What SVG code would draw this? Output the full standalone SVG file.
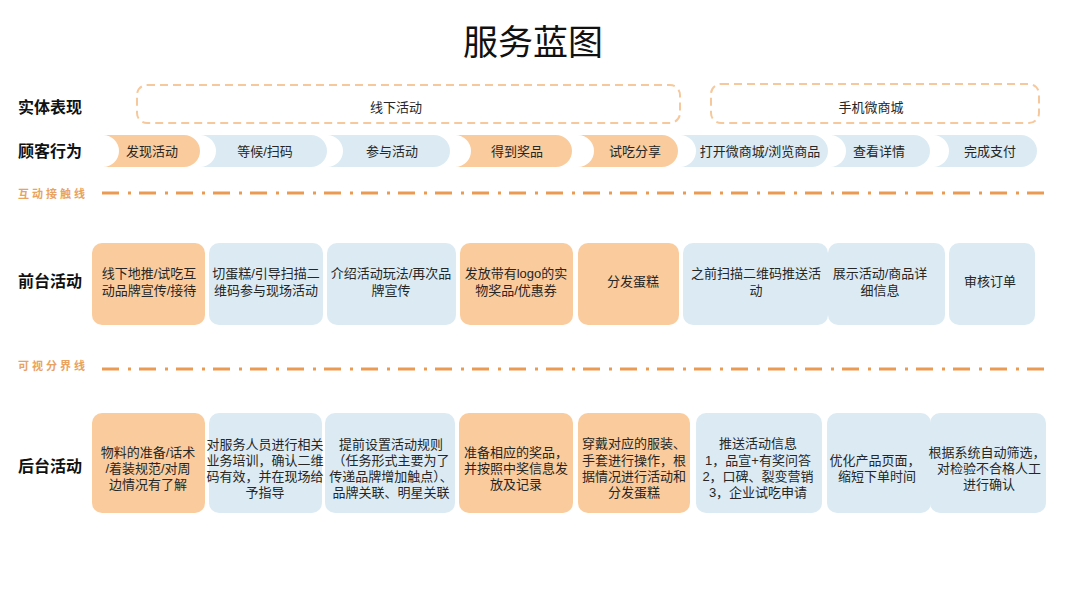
<svg xmlns="http://www.w3.org/2000/svg" width="1067" height="600" viewBox="0 0 1067 600">
<style>
text{font-family:"Liberation Sans","Noto Sans CJK SC",sans-serif;fill:#262626}
.t{font-size:13px;text-anchor:middle;dominant-baseline:central}
.lab{font-size:16px;font-weight:bold;fill:#111;dominant-baseline:central}
.sec{font-size:11px;font-weight:bold;fill:#E9A260;letter-spacing:3px;dominant-baseline:central}
.o{fill:#FACC9D}
.b{fill:#DCEBF3}
.dash{fill:none;stroke:#F6C99D;stroke-width:2;stroke-dasharray:8 5}
.line{stroke:#EA9A52;stroke-width:3;stroke-dasharray:17 9 3 8;fill:none}
</style>
<rect width="1067" height="600" fill="#fff"/>
<text x="533" y="42" style="font-size:35px;text-anchor:middle;dominant-baseline:central;fill:#111">服务蓝图</text>

<g id="labels">
<text class="lab" x="18" y="107">实体表现</text>
<text class="lab" x="18" y="151">顾客行为</text>
<text class="lab" x="18" y="281">前台活动</text>
<text class="lab" x="18" y="466">后台活动</text>
<text class="sec" x="18" y="194">互动接触线</text>
<text class="sec" x="18" y="366">可视分界线</text>
</g>

<g id="connectors">
<line class="line" x1="102" y1="193" x2="1046" y2="193"/>
<line class="line" x1="102" y1="369" x2="1046" y2="369"/>
</g>

<g id="physical-offline"><rect class="dash" x="137" y="85" width="543" height="38" rx="10"/><text class="t" x="396" y="107">线下活动</text></g>
<g id="physical-mobile"><rect class="dash" x="711" y="84" width="328" height="39" rx="10"/><text class="t" x="871" y="107">手机微商城</text></g>

<g id="c1"><path class="o" d="M103,135 H184 A16,16 0 0 1 184,167 H103 A16,16 0 0 0 103,135 Z"/><text class="t" x="152" y="151">发现活动</text></g>
<g id="c2"><path class="b" d="M200,135 H311 A16,16 0 0 1 311,167 H200 A16,16 0 0 0 200,135 Z"/><text class="t" x="265" y="151">等候/扫码</text></g>
<g id="c3"><path class="b" d="M327,135 H434 A16,16 0 0 1 434,167 H327 A16,16 0 0 0 327,135 Z"/><text class="t" x="392" y="151">参与活动</text></g>
<g id="c4"><path class="o" d="M455,135 H556 A16,16 0 0 1 556,167 H455 A16,16 0 0 0 455,135 Z"/><text class="t" x="517" y="151">得到奖品</text></g>
<g id="c5"><path class="o" d="M578,135 H662 A16,16 0 0 1 662,167 H578 A16,16 0 0 0 578,135 Z"/><text class="t" x="635" y="151">试吃分享</text></g>
<g id="c6"><path class="b" d="M680,135 H812 A16,16 0 0 1 812,167 H680 A16,16 0 0 0 680,135 Z"/><text class="t" x="760" y="151">打开微商城/浏览商品</text></g>
<g id="c7"><path class="b" d="M830,135 H914 A16,16 0 0 1 914,167 H830 A16,16 0 0 0 830,135 Z"/><text class="t" x="879" y="151">查看详情</text></g>
<g id="c8"><path class="b" d="M933,135 H1021 A16,16 0 0 1 1021,167 H933 A16,16 0 0 0 933,135 Z"/><text class="t" x="990" y="151">完成支付</text></g>

<g id="f1"><rect class="o" x="92" y="243" width="113" height="82" rx="10"/><text class="t" x="149" y="273">线下地推/试吃互</text><text class="t" x="149" y="290">动品牌宣传/接待</text></g>
<g id="f2"><rect class="b" x="209" y="243" width="114" height="82" rx="10"/><text class="t" x="266" y="273">切蛋糕/引导扫描二</text><text class="t" x="266" y="290">维码参与现场活动</text></g>
<g id="f3"><rect class="b" x="327" y="243" width="129" height="82" rx="10"/><text class="t" x="391" y="273">介绍活动玩法/再次品</text><text class="t" x="391" y="290">牌宣传</text></g>
<g id="f4"><rect class="o" x="460" y="243" width="113" height="82" rx="10"/><text class="t" x="516" y="273">发放带有logo的实</text><text class="t" x="516" y="290">物奖品/优惠券</text></g>
<g id="f5"><rect class="o" x="578" y="243" width="101" height="82" rx="10"/><text class="t" x="633" y="281">分发蛋糕</text></g>
<g id="f6"><rect class="b" x="683" y="243" width="145" height="82" rx="10"/><text class="t" x="756" y="273">之前扫描二维码推送活</text><text class="t" x="756" y="290">动</text></g>
<g id="f7"><rect class="b" x="828" y="243" width="117" height="82" rx="10"/><text class="t" x="880" y="273">展示活动/商品详</text><text class="t" x="880" y="290">细信息</text></g>
<g id="f8"><rect class="b" x="949" y="243" width="86" height="82" rx="10"/><text class="t" x="990" y="281">审核订单</text></g>

<g id="k1"><rect class="o" x="92" y="413" width="113" height="100" rx="10"/><text class="t" x="148" y="452">物料的准备/话术</text><text class="t" x="148" y="468">/着装规范/对周</text><text class="t" x="148" y="484">边情况有了解</text></g>
<g id="k2"><rect class="b" x="209" y="413" width="113" height="100" rx="10"/><text class="t" x="265" y="444">对服务人员进行相关</text><text class="t" x="265" y="460">业务培训，确认二维</text><text class="t" x="265" y="476">码有效，并在现场给</text><text class="t" x="265" y="492">予指导</text></g>
<g id="k3"><rect class="b" x="325" y="413" width="130" height="100" rx="10"/><text class="t" x="391" y="444">提前设置活动规则</text><text class="t" x="391" y="460">（任务形式主要为了</text><text class="t" x="391" y="476">传递品牌增加触点）、</text><text class="t" x="391" y="492">品牌关联、明星关联</text></g>
<g id="k4"><rect class="o" x="459" y="413" width="114" height="100" rx="10"/><text class="t" x="516" y="452">准备相应的奖品，</text><text class="t" x="516" y="468">并按照中奖信息发</text><text class="t" x="516" y="484">放及记录</text></g>
<g id="k5"><rect class="o" x="578" y="413" width="112" height="100" rx="10"/><text class="t" x="634" y="443">穿戴对应的服装、</text><text class="t" x="634" y="460">手套进行操作，根</text><text class="t" x="634" y="476">据情况进行活动和</text><text class="t" x="634" y="492">分发蛋糕</text></g>
<g id="k6"><rect class="b" x="696" y="413" width="126" height="100" rx="10"/><text class="t" x="758" y="443">推送活动信息</text><text class="t" x="758" y="460">1，品宣+有奖问答</text><text class="t" x="758" y="476">2，口碑、裂变营销</text><text class="t" x="758" y="492">3，企业试吃申请</text></g>
<g id="k7"><rect class="b" x="827" y="413" width="104" height="100" rx="10"/><text class="t" x="875" y="460">优化产品页面，</text><text class="t" x="877" y="476">缩短下单时间</text></g>
<g id="k8"><rect class="b" x="930" y="413" width="116" height="100" rx="10"/><text class="t" x="987" y="452">根据系统自动筛选，</text><text class="t" x="989" y="468">对检验不合格人工</text><text class="t" x="989" y="484">进行确认</text></g>
</svg>
